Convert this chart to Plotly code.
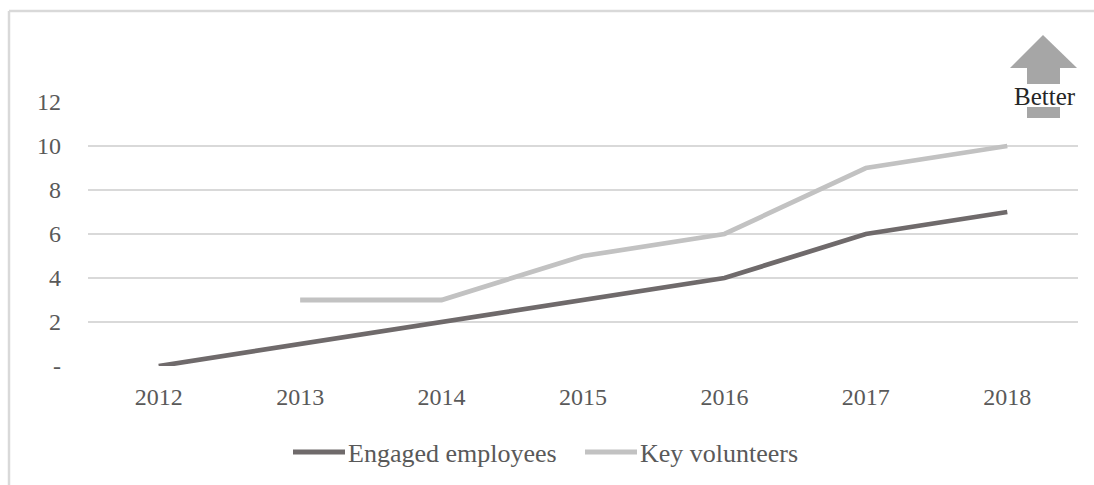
import plotly.graph_objects as go

# Chart data
years = ["2012", "2013", "2014", "2015", "2016", "2017", "2018"]
engaged_employees = [0, 1, 2, 3, 4, 6, 7]
key_volunteers = [None, 3, 3, 5, 6, 9, 10]
series_names = ["Engaged employees", "Key volunteers"]
series_colors = ["#6f6a6b", "#c2c2c2"]
y_ticks = [0, 2, 4, 6, 8, 10, 12]
y_tick_text = ["-", "2", "4", "6", "8", "10", "12"]

W, H = 1094, 485
M_L, M_R, M_T, M_B = 88, 16, 102, 119
PW, PH = W - M_L - M_R, H - M_T - M_B

FONT = "Liberation Serif, Times New Roman, serif"


def px(x):
    """Pixel x -> paper x."""
    return (x - M_L) / PW


def py(y):
    """Pixel y -> paper y."""
    return (H - M_B - y) / PH


fig = go.Figure()
for name, vals, col in zip(series_names, [engaged_employees, key_volunteers], series_colors):
    fig.add_trace(go.Scatter(
        x=years, y=vals, name=name, mode="lines",
        line=dict(color=col, width=4.8), showlegend=False,
        connectgaps=False,
    ))

shapes = []
annotations = []

# outer chart border (left and top edges)
shapes.append(dict(type="line", xref="paper", yref="paper",
                   x0=px(9), y0=py(11), x1=px(9), y1=py(H + 5),
                   line=dict(color="#d9d9d9", width=2.5)))
shapes.append(dict(type="line", xref="paper", yref="paper",
                   x0=px(9), y0=py(11), x1=px(W + 5), y1=py(11),
                   line=dict(color="#d9d9d9", width=2.5)))

# "Better" arrow
arrow_col = "#a6a6a6"
tri = f"M {px(1010)} {py(68)} L {px(1043)} {py(35)} L {px(1077)} {py(68)} Z"
shapes.append(dict(type="path", xref="paper", yref="paper", path=tri,
                   fillcolor=arrow_col, line=dict(width=0)))
shapes.append(dict(type="rect", xref="paper", yref="paper",
                   x0=px(1027), x1=px(1060), y0=py(67), y1=py(84),
                   fillcolor=arrow_col, line=dict(width=0)))
shapes.append(dict(type="rect", xref="paper", yref="paper",
                   x0=px(1027), x1=px(1060), y0=py(107), y1=py(118),
                   fillcolor=arrow_col, line=dict(width=0)))
annotations.append(dict(xref="paper", yref="paper", x=px(1045), y=py(96),
                        text="Better", showarrow=False, xanchor="center", yanchor="middle",
                        font=dict(family=FONT, size=25, color="#262626")))

# legend
legend_items = [(293, 345, 346), (585, 637, 638)]
for (lx0, lx1, tx), name, col in zip(legend_items, series_names, series_colors):
    shapes.append(dict(type="line", xref="paper", yref="paper",
                       x0=px(lx0), x1=px(lx1), y0=py(452), y1=py(452),
                       line=dict(color=col, width=5)))
    annotations.append(dict(xref="paper", yref="paper", x=px(tx), y=py(453),
                            text=name, showarrow=False, xanchor="left", yanchor="middle",
                            font=dict(family=FONT, size=26, color="#595959")))

fig.update_layout(
    width=W, height=H,
    margin=dict(l=M_L, r=M_R, t=M_T, b=M_B, autoexpand=False),
    paper_bgcolor="white", plot_bgcolor="white",
    font=dict(family=FONT, size=24, color="#595959"),
    shapes=shapes, annotations=annotations,
    xaxis=dict(type="category", range=[-0.5, len(years) - 0.5],
               showgrid=False, zeroline=False, showline=False, automargin=False,
               ticks="", tickfont=dict(size=24, color="#595959"),
               ticklabelstandoff=14),
    yaxis=dict(range=[0, 12], tickvals=y_ticks, ticktext=y_tick_text,
               showgrid=True, gridcolor="#d9d9d9", gridwidth=2,
               zeroline=False, showline=False, ticks="", automargin=False,
               tickfont=dict(size=24, color="#595959"),
               ticklabelstandoff=26),
)

fig.write_html("out.html")
